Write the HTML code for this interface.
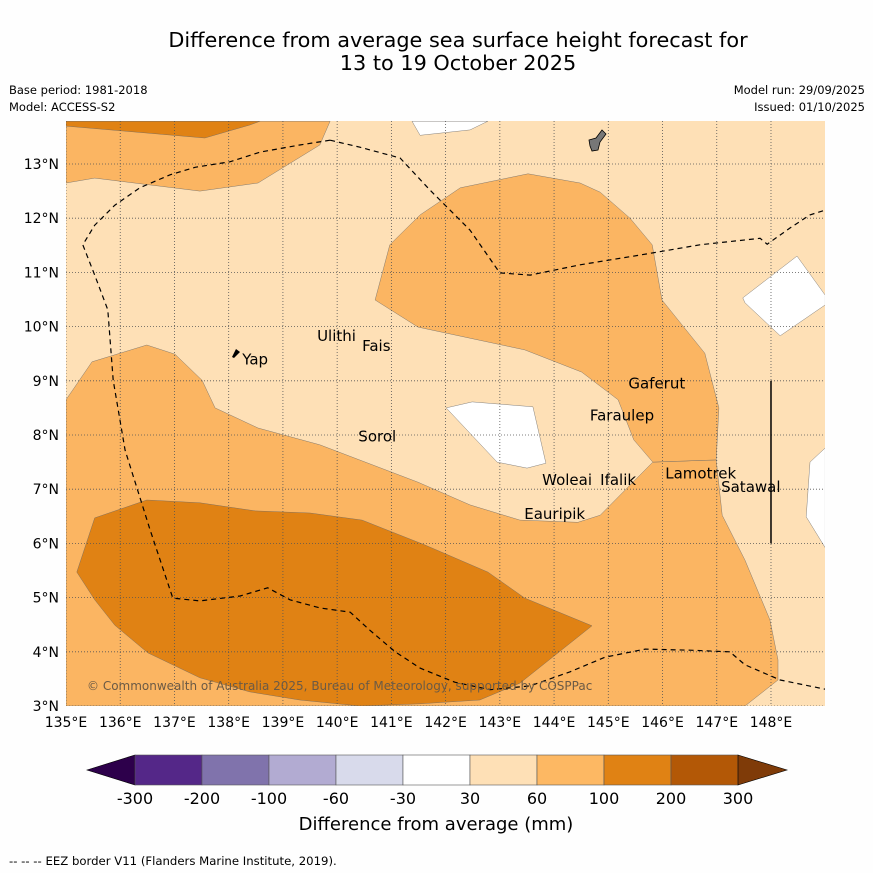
<!DOCTYPE html>
<html><head><meta charset="utf-8"><style>
body{margin:0;background:#fff;font-family:"Liberation Sans","DejaVu Sans",sans-serif;}
svg text{font-family:"DejaVu Sans","Liberation Sans",sans-serif;}
</style></head><body>
<svg id="s" width="873" height="873" xmlns="http://www.w3.org/2000/svg">
<rect width="873" height="873" fill="#fefefe"/>
<text x="458" y="47" font-size="20.8" text-anchor="middle">Difference from average sea surface height forecast for</text>
<text x="458" y="70" font-size="20.8" text-anchor="middle">13 to 19 October 2025</text>
<text x="9" y="94" font-size="11.5">Base period: 1981-2018</text>
<text x="9" y="111" font-size="11.5">Model: ACCESS-S2</text>
<text x="865" y="94" font-size="11.5" text-anchor="end">Model run: 29/09/2025</text>
<text x="865" y="111" font-size="11.5" text-anchor="end">Issued: 01/10/2025</text>
<g id="map"></g>
<g id="cb"></g>
<text x="436" y="830" font-size="18" text-anchor="middle">Difference from average (mm)</text>
<text x="9" y="865" font-size="11.7">--  --  -- EEZ border V11 (Flanders Marine Institute, 2019).</text>
</svg>
<script>
const lonTicks=[135,136,137,138,139,140,141,142,143,144,145,146,147,148];
const latTicks=[3,4,5,6,7,8,9,10,11,12,13];
const cbLabels=["-300","-200","-100","-60","-30","30","60","100","200","300"];
const cbColors=["#542788","#8073ac","#b2abd2","#d8daeb","#ffffff","#fee0b6","#fdb863","#e08214","#b35806"];
const lowMedium=[[135,3],[135,8.65],[135.48,9.35],[136.49,9.66],[137.01,9.49],[137.51,9.01],[137.75,8.5],[138.54,8.13],[139.68,7.82],[141.49,7.13],[142.45,6.71],[143.37,6.43],[144.44,6.39],[144.85,6.52],[145.82,7.5],[146.99,7.54],[147.1,6.52],[147.52,5.69],[147.98,4.59],[148.13,3.85],[148.13,3.48],[147.52,3]];
const upMedium=[[140.7,10.49],[140.97,11.51],[141.53,12.06],[142.27,12.56],[143.52,12.82],[144.48,12.65],[144.85,12.48],[145.4,12],[145.81,11.51],[145.99,10.49],[146.78,9.51],[147.04,8.5],[146.99,7.54],[145.82,7.5],[145.47,7.91],[145.18,8.65],[144.51,9.16],[143.46,9.57],[141.49,9.99]];
const topMedium=[[135,13.79],[139.87,13.79],[139.68,13.35],[138.54,12.65],[137.47,12.5],[135.53,12.74],[135,12.65]];
const topDark=[[135,13.79],[138.58,13.79],[138.39,13.72],[137.56,13.48],[135,13.7]];
const lowDark=[[135.2,5.47],[135.53,6.47],[136.49,6.8],[137.47,6.75],[138.49,6.6],[139.5,6.56],[140.46,6.43],[141.62,5.97],[142.78,5.47],[143.46,4.99],[144.7,4.48],[143.37,3.42],[142.63,3.11],[141.53,3.04],[140.42,3],[139.31,3.11],[138.39,3.26],[137.47,3.52],[136.51,3.98],[135.9,4.49],[135.53,4.96]];
const whiteTop=[[141.38,13.79],[141.53,13.53],[142.45,13.63],[142.78,13.79]];
const whiteMid=[[142.01,8.5],[142.49,8.61],[143.61,8.52],[143.85,7.48],[143.5,7.39],[142.95,7.5]];
const whiteRight=[[147.48,10.53],[148.48,11.3],[149,10.58],[149,10.4],[148.17,9.83],[147.52,10.44]];
const whiteRB=[[149,7.76],[148.72,7.5],[148.65,6.49],[149,5.92]];
const eezA=[[139.87,13.44],[139.31,13.35],[138.58,13.22],[138.02,13.04],[137.38,12.94],[136.92,12.8],[136.36,12.56],[135.9,12.24],[135.53,11.87],[135.31,11.51],[135.53,10.95],[135.77,10.31],[135.87,9.01],[136.09,7.72],[136.55,6.25],[136.97,4.99],[137.47,4.94],[138.21,5.03],[138.72,5.18],[139.13,4.96],[139.68,4.81],[140.24,4.73],[140.6,4.4],[141.07,4],[141.53,3.7],[142.17,3.44],[142.82,3.3],[143.56,3.37],[144.29,3.63],[144.94,3.9],[145.68,4.05],[146.51,4.03],[147.24,4],[147.52,3.76],[148.17,3.48],[149,3.31]];
const eezB=[[139.87,13.44],[140.42,13.31],[141.16,13.11],[141.71,12.52],[142.45,11.78],[143,10.99],[143.56,10.95],[144.48,11.14],[145.58,11.32],[146.69,11.51],[147.8,11.63],[147.93,11.52],[148.35,11.82],[148.72,12.06],[149,12.15]];
const places=[["Ulithi",139.63,9.73],["Fais",140.46,9.55],["Yap",138.25,9.3],["Sorol",140.39,7.88],["Gaferut",145.37,8.86],["Faraulep",144.66,8.27],["Woleai",143.78,7.08],["Ifalik",144.85,7.08],["Lamotrek",146.05,7.2],["Satawal",147.08,6.95],["Eauripik",143.45,6.45]];
const NS="http://www.w3.org/2000/svg";
const X0=66,X1=825,Y0=121,Y1=706,LON0=135,LAT0=3,PPD=54.23;
const xs=l=>X0+(l-LON0)*PPD, ys=l=>Y1-(l-LAT0)*54.2;
const map=document.getElementById('map');
function mk(t,a,p){const e=document.createElementNS(NS,t);for(const k in a)e.setAttribute(k,a[k]);(p||map).appendChild(e);return e;}
const cp=mk('clipPath',{id:'cp'});mk('rect',{x:X0,y:Y0,width:X1-X0,height:Y1-Y0},cp);
const g=mk('g',{'clip-path':'url(#cp)'});
const bg=mk('rect',{x:X0,y:Y0,width:X1-X0,height:Y1-Y0,fill:'#fee0b6'},g);


const pts=a=>a.map(p=>xs(p[0]).toFixed(1)+','+ys(p[1]).toFixed(1)).join(' ');
[[lowMedium,'#fbb562','medium-region-south'],[upMedium,'#fbb562','medium-region-north'],[topMedium,'#fbb562','medium-region-top'],[topDark,'#e08214','dark-region-top'],[lowDark,'#e08214','dark-region-south'],[whiteTop,'#ffffff','neutral-region-top'],[whiteMid,'#ffffff','neutral-region-mid'],[whiteRight,'#ffffff','neutral-region-east'],[whiteRB,'#ffffff','neutral-region-southeast']].forEach(([d,c,n])=>{
 const e=mk('polygon',{points:pts(d),fill:c,stroke:'#666','stroke-width':0.4},g);
 
 
});
lonTicks.forEach(l=>{const e=mk('line',{x1:xs(l),x2:xs(l),y1:Y0,y2:Y1,stroke:'#555','stroke-width':0.8,'stroke-dasharray':'1,2'},g);
 });
latTicks.forEach(l=>{const e=mk('line',{x1:X0,x2:X1,y1:ys(l),y2:ys(l),stroke:'#555','stroke-width':0.8,'stroke-dasharray':'1,2'},g);
 });
[eezA,eezB].forEach(d=>{const e=mk('polyline',{points:pts(d),fill:'none',stroke:'#000','stroke-width':1.2,'stroke-dasharray':'5,4'},g);
 });
const vl=mk('line',{x1:xs(148),x2:xs(148),y1:ys(9),y2:ys(6),stroke:'#000','stroke-width':1.5},g);

const guam=mk('path',{d:'M589,140 L596,138 L602,130 L606,134 L600,142 L598,150 L592,151 L590,146 Z',fill:'#777',stroke:'#000','stroke-width':0.8},g);

const yap=mk('path',{d:'M232,357 L236,349 L240,352 L234,358 Z',fill:'#000'},g);

places.forEach(([n,lo,la])=>{const t=mk('text',{x:xs(lo),y:ys(la),'font-size':15,fill:'#000'},g);t.textContent=n;
 });
const cr=mk('text',{x:87,y:690,'font-size':12,fill:'#6b5a45'},g);cr.textContent='© Commonwealth of Australia 2025, Bureau of Meteorology, supported by COSPPac';

lonTicks.forEach(l=>{const t=mk('text',{x:xs(l),y:727,'font-size':14,'text-anchor':'middle'});t.textContent=l+'°E';
 });
latTicks.forEach(l=>{const t=mk('text',{x:59,y:ys(l)+5,'font-size':14,'text-anchor':'end'});t.textContent=l+'°N';
 });
const cb=document.getElementById('cb');const BX=135,BW=67,BY=755,BH=30;
const lt=mk('polygon',{points:`87,${BY+BH/2} ${BX},${BY} ${BX},${BY+BH}`,fill:'#2d004b',stroke:'#000','stroke-width':0.6},cb);

cbColors.forEach((c,i)=>{const r=mk('rect',{x:BX+i*BW,y:BY,width:BW,height:BH,fill:c,stroke:'#555','stroke-width':0.6},cb);
 });
const rx=BX+cbColors.length*BW;
const rt=mk('polygon',{points:`${rx},${BY} ${rx+49},${BY+BH/2} ${rx},${BY+BH}`,fill:'#7f3b08',stroke:'#000','stroke-width':0.6},cb);

cbLabels.forEach((s,i)=>{const t=mk('text',{x:BX+i*BW,y:804,'font-size':16,'text-anchor':'middle'},cb);t.textContent=s;
 });
</script>
</body></html>
